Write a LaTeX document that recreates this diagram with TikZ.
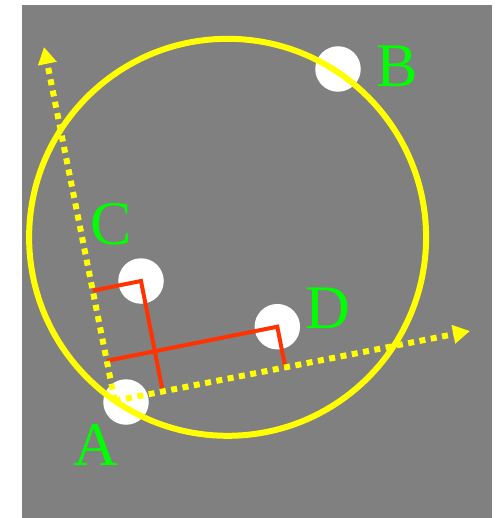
\documentclass[tikz,border=0pt]{standalone}
\usepackage{fontspec}
\setmainfont{Liberation Serif}
\usetikzlibrary{arrows.meta,calc}
\definecolor{bgcolor}{HTML}{808080}
\definecolor{circcolor}{HTML}{FFFF00}
\definecolor{projcolor}{HTML}{FF3300}
\definecolor{labcolor}{HTML}{00FF00}

\begin{document}
\begin{tikzpicture}[x=1pt,y=-1pt,
    pt/.style={circle,fill=white,minimum size=45.5pt,inner sep=0pt},
    lbl/.style={text=labcolor,inner sep=0pt,anchor=base west,font=\fontsize{62}{62}\selectfont},
    dotaxis/.style={draw=circcolor,line width=6pt,dash pattern=on 6pt off 5.5pt,-{Triangle[length=17pt,width=18pt]}},
    proj/.style={draw=projcolor,line width=4pt},
  ]
    \useasboundingbox (0,0) rectangle (498,518);
    \fill[bgcolor] (22,5) rectangle (492,518);

    % points
    \node[pt] (A) at (126,402) {};
    \node[pt] (B) at (338,69) {};
    \node[pt] (C) at (141,281) {};
    \node[pt] (D) at (277.3,326.7) {};

    \draw[circcolor,line width=6pt] (227.6,237.3) circle[radius=198.5pt];

    % rotated axes
    \coordinate (O) at (114.8,400.9);
    \coordinate (xtip) at (470,331);
    \coordinate (ytip) at (44,47);
    \coordinate (Cx) at ($(O)!(C.center)!(xtip)$);
    \coordinate (Cy) at ($(O)!(C.center)!(ytip)$);
    \coordinate (Dx) at ($(O)!(D.center)!(xtip)$);
    \coordinate (Dy) at ($(O)!(D.center)!(ytip)$);

    \draw[proj] (Cy) -- (C.center) -- (Cx);
    \draw[proj] (Dy) -- (D.center) -- (Dx);

    \draw[dotaxis] (O) -- (xtip);
    \draw[dotaxis] (O) -- (ytip);

    \node[lbl] (Alab) at (73,465) {A};
    \node[lbl] (Blab) at (376,87) {B};
    \node[lbl] (Clab) at (90,244) {C};
    \node[lbl] (Dlab) at (305,328) {D};
\end{tikzpicture}
\end{document}
